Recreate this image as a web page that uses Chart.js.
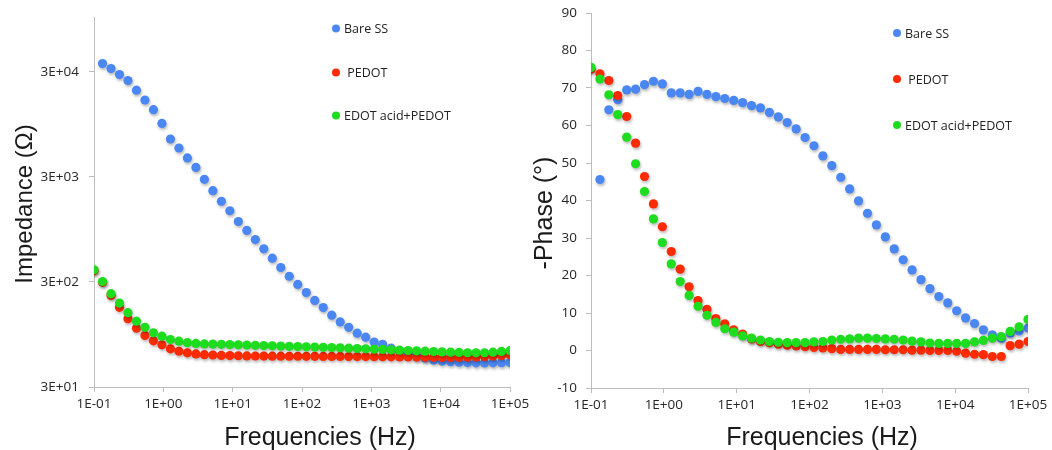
<!DOCTYPE html>
<html>
<head>
<meta charset="utf-8">
<script src="https://cdn.jsdelivr.net/npm/chart.js@4.4.1/dist/chart.umd.min.js"></script>
<style>
  html, body { margin: 0; padding: 0; background: #fff; }
  body { width: 1052px; height: 450px; position: relative; overflow: hidden; }
  canvas { position: absolute; top: 0; }
  #impedanceChart { left: 0; }
  #phaseChart { left: 528px; }
</style>
</head>
<body>
<canvas id="impedanceChart" width="545" height="450"></canvas>
<canvas id="phaseChart" width="524" height="450"></canvas>
<script>
// series names and colours
var seriesNames = ['Bare SS', ' PEDOT', 'EDOT acid+PEDOT'];
var seriesColors = ['#4b87f3', '#ff2b00', '#1edc1e'];

// measured frequencies (Hz), shared by both plots
var freqHz = [0.1, 0.1326, 0.1758, 0.2330, 0.3089, 0.4095, 0.5429, 0.7197, 0.9541, 1.265,
  1.677, 2.223, 2.947, 3.907, 5.179, 6.866, 9.103, 12.07, 16.00, 21.21,
  28.12, 37.28, 49.42, 65.51, 86.85, 115.1, 152.6, 202.3, 268.3, 355.6,
  471.5, 625.1, 828.7, 1099, 1456, 1931, 2560, 3393, 4499, 5964,
  7907, 10481, 13895, 18421, 24421, 32375, 42919, 56899, 75431, 100000];

// impedance (ohm)
var bareImpedance = [null, 36000, 32300, 28300, 24800, 20100, 16200, 13100, 9700, 6890,
  5660, 4550, 3700, 2850, 2220, 1760, 1430, 1130, 928, 760,
  621, 505, 412, 340, 284, 238, 200, 171, 145, 125,
  111, 97.7, 89.4, 80.3, 76.4, 70.3, 66.2, 62.7, 59.3, 56.7,
  54.3, 53, 52.2, 51.6, 51.2, 51, 50.9, 51, 51.1, 51.3];
var pedotImpedance = [385, 298, 223, 172, 134, 109, 93, 82.6, 75.7, 69.3,
  65.7, 63.5, 62, 61, 60.5, 60, 59.7, 59.5, 59.3, 59.2,
  59.1, 59, 59, 58.9, 58.9, 58.8, 58.8, 58.7, 58.7, 58.6,
  58.5, 58.5, 58.4, 58.3, 58.2, 58.1, 58, 57.9, 57.8, 57.6,
  57.5, 57.4, 57.4, 57.5, 57.7, 58, 58.5, 59.2, 60, 60.8];
var edotImpedance = [392, 303, 232, 189, 153, 127, 111, 98.4, 91.4, 85,
  82, 79.2, 78, 77.2, 76.8, 76.4, 76, 75.6, 75.2, 74.8,
  74.4, 74, 73.6, 73.2, 72.8, 72.4, 72, 71.6, 71.2, 70.8,
  70.3, 69.8, 69.3, 68.8, 68.3, 67.8, 67.3, 66.8, 66.3, 65.8,
  65.3, 64.8, 64.4, 64, 63.6, 63.4, 63.6, 64.4, 65.4, 66.5];

// -phase (degrees)
var barePhase = [null, 45.6, 64.2, 66.9, 69.5, 69.7, 70.9, 71.8, 71.1, 68.7,
  68.7, 68.3, 69.1, 68.3, 67.7, 67.2, 66.7, 66.1, 65.3, 64.7,
  63.5, 62.3, 60.8, 59.1, 56.8, 54.6, 51.9, 49.3, 46.2, 43.1,
  39.9, 36.6, 33.5, 30.3, 27.1, 24.2, 21.5, 18.9, 16.5, 14.4,
  12.7, 10.6, 8.7, 7.2, 5.5, 4.2, 3.3, 4.6, 5.2, 6.0];
var pedotPhase = [75, 73.8, 72.0, 68.0, 62.4, 55.3, 46.4, 39.1, 33.0, 26.4,
  21.7, 17.0, 13.3, 11.0, 8.5, 7.1, 5.5, 4.4, 3.1, 2.4,
  2.1, 1.7, 1.4, 1.2, 1.0, 0.8, 0.7, 0.5, 0.3, 0.3,
  0.3, 0.3, 0.3, 0.2, 0.2, 0.2, 0.1, 0.1, 0.0, 0.0,
  0.0, -0.2, -0.7, -1.0, -1.1, -1.6, -1.6, 1.3, 1.7, 2.4];
var edotPhase = [75.5, 72.4, 68.2, 62.9, 56.9, 49.8, 42.4, 35.1, 28.8, 23.1,
  18.4, 14.7, 11.8, 9.4, 7.5, 5.8, 4.9, 3.9, 3.3, 2.8,
  2.4, 2.2, 2.1, 2.1, 2.1, 2.3, 2.4, 2.8, 3.0, 3.1,
  3.3, 3.3, 3.2, 3.1, 3.0, 2.8, 2.5, 2.3, 2.0, 1.9,
  1.9, 1.9, 1.9, 2.3, 2.7, 3.3, 3.7, 5.1, 6.3, 8.3];

// tick labels
var freqTicks = [0.1, 1, 10, 100, 1000, 10000, 100000];
var impedanceTicks = [30, 300, 3000, 30000];
var phaseTicks = [-10, 0, 10, 20, 30, 40, 50, 60, 70, 80, 90];

var AXIS_GREY = '#bdbdbd';
var TICK_COLOR = '#262626';
var TICK_FONT = { family: 'Open Sans', size: 13.5 };

function sciLabel(v) {
    var parts = Number(v).toExponential(0).split('e');
    var exp = parseInt(parts[1], 10);
    return parts[0] + 'E' + (exp < 0 ? '-' : '+') + String(Math.abs(exp)).padStart(2, '0');
}

function toPoints(values) {
    return freqHz.map(function(f, i) { return { x: f, y: values[i] }; })
        .filter(function(p) { return p.y !== null; });
}

function makeDatasets(series) {
    return series.map(function(values, i) {
        return {
            label: seriesNames[i],
            data: toPoints(values),
            backgroundColor: seriesColors[i],
            borderWidth: 0,
            pointRadius: 4.6,
            showLine: false,
            order: 3 - i   // first series at the bottom, like Excel
        };
    });
}

// soft drop shadow under the markers
var pointShadow = {
    id: 'pointShadow',
    beforeDatasetsDraw: function(chart) {
        var ctx = chart.ctx;
        ctx.save();
        ctx.shadowColor = 'rgba(0,0,0,0.28)';
        ctx.shadowBlur = 3;
        ctx.shadowOffsetX = 1;
        ctx.shadowOffsetY = 2;
    },
    afterDatasetsDraw: function(chart) {
        chart.ctx.restore();
    }
};

// legend stacked inside the plot, like the original
function sideLegend(x, rows) {
    return {
        id: 'sideLegend',
        afterDraw: function(chart) {
            var ctx = chart.ctx;
            ctx.save();
            ctx.font = '12.5px "Open Sans"';
            ctx.textBaseline = 'middle';
            chart.data.datasets.forEach(function(ds, i) {
                ctx.beginPath();
                ctx.arc(x, rows[i], 4, 0, Math.PI * 2);
                ctx.fillStyle = ds.backgroundColor;
                ctx.fill();
                ctx.fillStyle = '#222222';
                ctx.fillText(ds.label, x + 8, rows[i] + 1);
            });
            ctx.restore();
        }
    };
}

// axis titles, placed where the original has them (a bit off the axis centre)
function axisTitles(titles) {
    return {
        id: 'axisTitles',
        afterDraw: function(chart) {
            var ctx = chart.ctx;
            titles.forEach(function(t) {
                ctx.save();
                ctx.translate(t.x, t.y);
                if (t.vertical) ctx.rotate(-Math.PI / 2);
                ctx.font = t.size + 'px "Liberation Sans"';
                ctx.fillStyle = '#1a1a1a';
                ctx.textAlign = 'center';
                ctx.textBaseline = 'middle';
                ctx.fillText(t.text, 0, 0);
                ctx.restore();
            });
        }
    };
}

function freqAxis(height) {
    return {
        type: 'logarithmic',
        min: 0.1,
        max: 100000,
        border: { color: AXIS_GREY },
        grid: { drawOnChartArea: false, drawTicks: true, tickLength: 5, color: AXIS_GREY },
        ticks: {
            font: TICK_FONT,
            color: TICK_COLOR,
            padding: 4,
            maxRotation: 0,
            autoSkip: false,
            callback: function(v) { return sciLabel(v); }
        },
        afterBuildTicks: function(scale) {
            scale.ticks = freqTicks.map(function(v) { return { value: v }; });
        },
        afterFit: function(scale) {
            scale.height = height;
            scale.paddingLeft = 0;
            scale.paddingRight = 0;
        }
    };
}

function baseOptions(padding, xScale, yScale) {
    return {
        responsive: false,
        animation: false,
        devicePixelRatio: 1,
        layout: { padding: padding },
        plugins: { legend: { display: false }, tooltip: { enabled: false } },
        scales: { x: xScale, y: yScale }
    };
}

// Impedance
new Chart(document.getElementById('impedanceChart').getContext('2d'), {
    type: 'scatter',
    data: { datasets: makeDatasets([bareImpedance, pedotImpedance, edotImpedance]) },
    options: baseOptions({ left: 0, top: 17, right: 35, bottom: 0 }, freqAxis(63), {
        type: 'logarithmic',
        min: 30,
        max: 100000,
        border: { color: AXIS_GREY },
        grid: { drawOnChartArea: false, drawTicks: true, tickLength: 5, color: AXIS_GREY },
        ticks: {
            font: TICK_FONT,
            color: TICK_COLOR,
            padding: 10,
            autoSkip: false,
            callback: function(v) { return sciLabel(v); }
        },
        afterBuildTicks: function(scale) {
            scale.ticks = impedanceTicks.map(function(v) { return { value: v }; });
        },
        afterFit: function(scale) {
            scale.width = 94;
            scale.paddingTop = 0;
            scale.paddingBottom = 0;
        }
    }),
    plugins: [pointShadow, sideLegend(336, [28.5, 72.5, 115.5]), axisTitles([
        { text: 'Impedance (\u03A9)', x: 25, y: 204, size: 24, vertical: true },
        { text: 'Frequencies (Hz)', x: 320, y: 438, size: 25 }
    ])]
});

// Phase
new Chart(document.getElementById('phaseChart').getContext('2d'), {
    type: 'scatter',
    data: { datasets: makeDatasets([barePhase, pedotPhase, edotPhase]) },
    options: baseOptions({ left: 0, top: 13, right: 24, bottom: 0 }, freqAxis(62), {
        type: 'linear',
        min: -10,
        max: 90,
        border: { color: AXIS_GREY },
        grid: { drawOnChartArea: false, drawTicks: true, tickLength: 5, color: AXIS_GREY },
        ticks: {
            font: TICK_FONT,
            color: TICK_COLOR,
            padding: 9,
            autoSkip: false,
            callback: function(v) { return String(v); }
        },
        afterBuildTicks: function(scale) {
            scale.ticks = phaseTicks.map(function(v) { return { value: v }; });
        },
        afterFit: function(scale) {
            scale.width = 63;
            scale.paddingTop = 0;
            scale.paddingBottom = 0;
        }
    }),
    plugins: [pointShadow, sideLegend(369, [33, 79, 125]), axisTitles([
        { text: '-Phase (\u00B0)', x: 17, y: 213, size: 25, vertical: true },
        { text: 'Frequencies (Hz)', x: 294, y: 438, size: 25 }
    ])]
});
</script>
</body>
</html>
